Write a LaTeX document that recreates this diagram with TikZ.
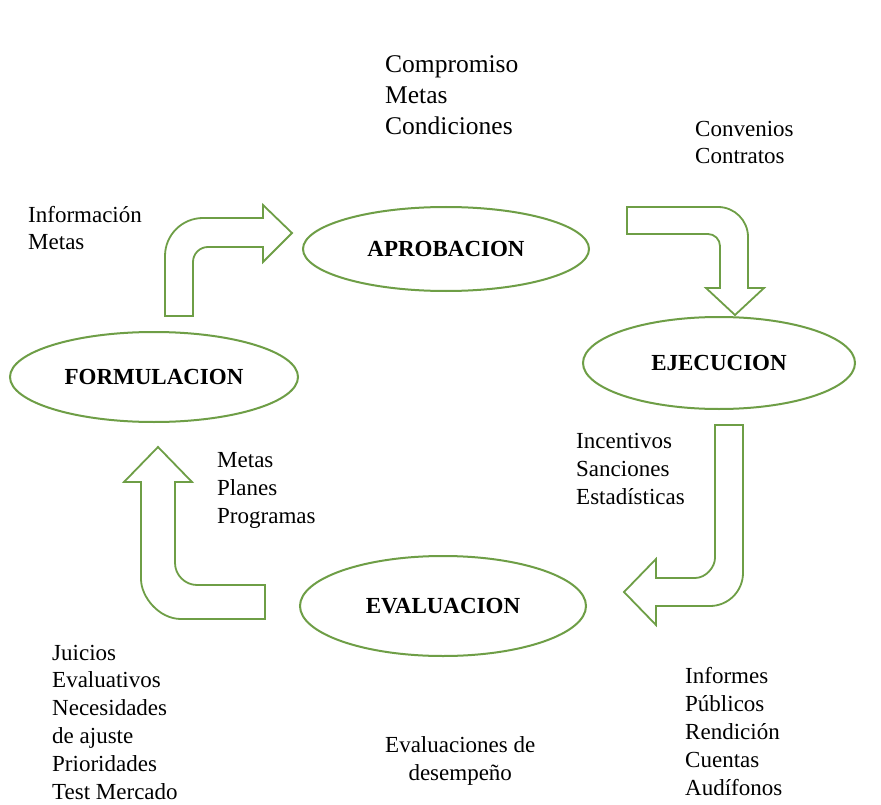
\documentclass[tikz,border=0pt]{standalone}
\usepackage{fontspec}
\setmainfont{Liberation Serif}
\usetikzlibrary{shapes.geometric}
\definecolor{ogreen}{RGB}{110,158,70}
\begin{document}
\begin{tikzpicture}[x=1pt,y=-1pt,
  stage/.style={ellipse, draw=ogreen, line width=2pt, inner sep=0pt,
    font=\bfseries\fontsize{23}{28}\selectfont},
  bentarrow/.style={draw=ogreen, line width=1.8pt, fill=white, line join=miter},
  lbl/.style={anchor=base west, inner sep=0pt, align=left,
    font=\fontsize{23}{27.8}\selectfont},
  toplbl/.style={anchor=base west, inner sep=0pt, align=left,
    font=\fontsize{25.5}{31}\selectfont}]
\useasboundingbox (0,0) rectangle (881,805);
\fill[white] (0,0) rectangle (881,805);

% stages
\node[stage, minimum width=286pt, minimum height=84pt] (apro) at (446,249) {APROBACION};
\node[stage, minimum width=272pt, minimum height=92pt] (ejec) at (719,363) {EJECUCION};
\node[stage, minimum width=288pt, minimum height=90pt] (form) at (154,377) {FORMULACION};
\node[stage, minimum width=286pt, minimum height=100pt] (eval) at (443,606) {EVALUACION};

% bent block arrows
\draw[bentarrow] (165,316) -- (165,256) .. controls (165,235) and (182,218) .. (203,218)
  -- (263,218) -- (263,205) -- (292,233) -- (263,262) -- (263,247) -- (208,247)
  .. controls (199.7,247) and (193,253.7) .. (193,262) -- (193,316) -- cycle;
\draw[bentarrow] (627,207) -- (718,207) .. controls (734.6,207) and (748,220.4) .. (748,237)
  -- (748,288) -- (764,288) -- (735,315) -- (706,288) -- (720,288) -- (720,246)
  .. controls (720,239.4) and (714.6,234) .. (708,234) -- (627,234) -- cycle;
\draw[bentarrow] (743,425) -- (743,573) .. controls (743,591.2) and (728.2,606) .. (710,606)
  -- (656,606) -- (656,625) -- (624,592) -- (656,559) -- (656,578) -- (695,578)
  .. controls (706,578) and (715,567) .. (715,558) -- (715,425) -- cycle;
\draw[bentarrow] (265,619) -- (181,619) .. controls (159,619) and (141,597) .. (141,579)
  -- (141,482) -- (124,482) -- (158,447) -- (192,482) -- (175,482) -- (175,563)
  .. controls (175,575) and (185,585) .. (197,585) -- (265,585) -- cycle;

% labels (anchor = baseline of the last line)
\node[toplbl] (t1) at (385,135) {Compromiso\\Metas\\Condiciones};
\node[lbl] (t2) at (695,164) {Convenios\\Contratos};
\node[lbl] (t3) at (28,250) {Información\\Metas};
\node[lbl] (t4) at (217,523) {Metas\\Planes\\Programas};
\node[lbl] (t5) at (576,504) {Incentivos\\Sanciones\\Estadísticas};
\node[lbl] (t6) at (52,799) {Juicios\\Evaluativos\\Necesidades\\de ajuste\\Prioridades\\Test Mercado};
\node[lbl, align=center] (t7) at (385,780) {Evaluaciones de\\desempeño};
\node[lbl] (t8) at (685,795) {Informes\\Públicos\\Rendición\\Cuentas\\Audífonos};
\end{tikzpicture}
\end{document}
